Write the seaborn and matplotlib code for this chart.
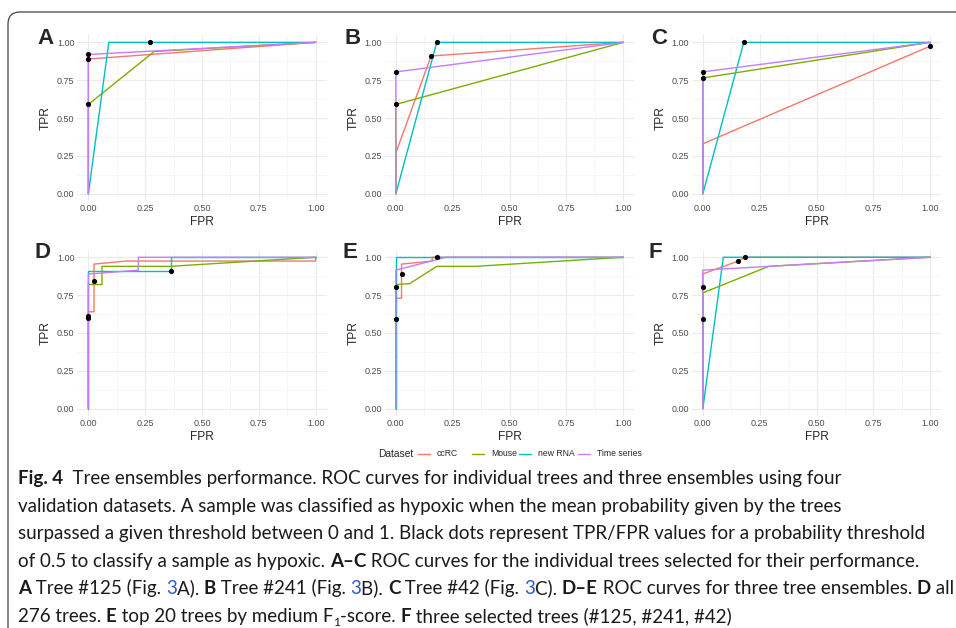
import matplotlib
matplotlib.use("Agg")
import matplotlib.pyplot as plt
from matplotlib.patches import FancyBboxPatch
from matplotlib.lines import Line2D
import pandas as pd
import seaborn as sns

# Data: ROC curves
datasets = ["ccRC", "Mouse", "new RNA", "Time series"]
colors = ["#F8766D", "#7CAE00", "#00BFC4", "#C77CFF"]
ticks = [0, 0.25, 0.5, 0.75, 1.0]
tick_labels = ["0.00", "0.25", "0.50", "0.75", "1.00"]
minor_ticks = [0.125, 0.375, 0.625, 0.875]
letters = ["A", "B", "C", "D", "E", "F"]

# A: tree #125
a_fpr = {"ccRC": [0, 0, 1], "Mouse": [0, 0, 0.29, 1], "new RNA": [0, 0.09, 1], "Time series": [0, 0, 1]}
a_tpr = {"ccRC": [0, 0.89, 1], "Mouse": [0, 0.59, 0.94, 1], "new RNA": [0, 1, 1], "Time series": [0, 0.92, 1]}
a_dot_fpr = [0, 0, 0, 0.27]
a_dot_tpr = [0.92, 0.89, 0.59, 1.0]

# B: tree #241
b_fpr = {"ccRC": [0, 0, 0.155, 1], "Mouse": [0, 0, 1], "new RNA": [0, 0.18, 1], "Time series": [0, 0, 1]}
b_tpr = {"ccRC": [0, 0.27, 0.91, 1], "Mouse": [0, 0.59, 1], "new RNA": [0, 1, 1], "Time series": [0, 0.805, 1]}
b_dot_fpr = [0.155, 0, 0.18, 0]
b_dot_tpr = [0.91, 0.59, 1.0, 0.805]

# C: tree #42
c_fpr = {"ccRC": [0, 0, 1, 1], "Mouse": [0, 0, 1], "new RNA": [0, 0.18, 1], "Time series": [0, 0, 1]}
c_tpr = {"ccRC": [0, 0.33, 0.975, 1], "Mouse": [0, 0.765, 1], "new RNA": [0, 1, 1], "Time series": [0, 0.805, 1]}
c_dot_fpr = [1, 0, 0.18, 0]
c_dot_tpr = [0.975, 0.765, 1.0, 0.805]

# D: all 276 trees
d_fpr = {"ccRC": [0, 0, 0.025, 0.025, 0.165, 1, 1], "Mouse": [0, 0, 0.06, 0.06, 0.36, 1],
         "new RNA": [0, 0, 0.365, 0.365, 1], "Time series": [0, 0, 0.01, 0.22, 0.22, 1]}
d_tpr = {"ccRC": [0, 0.64, 0.64, 0.955, 0.975, 0.975, 1], "Mouse": [0, 0.82, 0.82, 0.94, 0.94, 1],
         "new RNA": [0, 0.91, 0.91, 1, 1], "Time series": [0, 0.89, 0.89, 0.915, 1, 1]}
d_dot_fpr = [0.025, 0, 0, 0.365]
d_dot_tpr = [0.845, 0.60, 0.615, 0.91]

# E: top 20 trees
e_fpr = {"ccRC": [0, 0, 0.025, 0.025, 0.16, 0.16, 1], "Mouse": [0, 0, 0.06, 0.18, 0.35, 1],
         "new RNA": [0, 0, 1], "Time series": [0, 0, 0.22, 1]}
e_tpr = {"ccRC": [0, 0.73, 0.73, 0.955, 0.975, 1, 1], "Mouse": [0, 0.82, 0.825, 0.94, 0.94, 1],
         "new RNA": [0, 1, 1], "Time series": [0, 0.915, 1, 1]}
e_dot_fpr = [0, 0.025, 0, 0.18]
e_dot_tpr = [0.805, 0.89, 0.59, 1.0]

# F: three selected trees
f_fpr = {"ccRC": [0, 0, 0.155, 0.185, 1], "Mouse": [0, 0, 0.29, 1], "new RNA": [0, 0.09, 1], "Time series": [0, 0, 0.29, 1]}
f_tpr = {"ccRC": [0, 0.89, 0.975, 1, 1], "Mouse": [0, 0.765, 0.94, 1], "new RNA": [0, 1, 1], "Time series": [0, 0.915, 0.94, 1]}
f_dot_fpr = [0, 0, 0.155, 0.185]
f_dot_tpr = [0.805, 0.59, 0.975, 1.0]

panels = [(a_fpr, a_tpr, a_dot_fpr, a_dot_tpr), (b_fpr, b_tpr, b_dot_fpr, b_dot_tpr),
          (c_fpr, c_tpr, c_dot_fpr, c_dot_tpr), (d_fpr, d_tpr, d_dot_fpr, d_dot_tpr),
          (e_fpr, e_tpr, e_dot_fpr, e_dot_tpr), (f_fpr, f_tpr, f_dot_fpr, f_dot_tpr)]

sns.set_theme(style="white")
plt.rcParams["font.family"] = ["Liberation Sans", "DejaVu Sans"]

W, H = 956, 628
fig = plt.figure(figsize=(W / 100, H / 100), dpi=100)

# panel geometry in pixels
col_left = [77, 384.5, 691.5]
row_top = [34.8, 249.7]
ax_w, ax_h = 250, 166.5
letter_pos = [(37, 39), (344, 39), (651, 39), (35, 253), (342, 253), (649, 253)]

for i, (fpr, tpr, dfx, dfy) in enumerate(panels):
    r, c = divmod(i, 3)
    x0, y0 = col_left[c], row_top[r]
    ax = fig.add_axes([x0 / W, 1 - (y0 + ax_h) / H, ax_w / W, ax_h / H])
    rows = []
    for ds in datasets:
        for x, y in zip(fpr[ds], tpr[ds]):
            rows.append({"FPR": x, "TPR": y, "Dataset": ds})
    df = pd.DataFrame(rows)
    sns.lineplot(data=df, x="FPR", y="TPR", hue="Dataset", hue_order=datasets,
                 palette=colors, sort=False, estimator=None, legend=False,
                 linewidth=1.0, ax=ax)
    sns.scatterplot(x=dfx, y=dfy, color="black", s=14, linewidth=0, ax=ax, zorder=5)
    ax.set_xlim(-0.05, 1.05)
    ax.set_ylim(-0.05, 1.05)
    ax.set_xticks(ticks, labels=tick_labels)
    ax.set_yticks(ticks, labels=tick_labels)
    ax.set_xticks(minor_ticks, minor=True)
    ax.set_yticks(minor_ticks, minor=True)
    ax.grid(which="major", color="#EBEBEB", linewidth=0.8)
    ax.grid(which="minor", color="#F3F3F3", linewidth=0.5)
    ax.set_axisbelow(True)
    for s in ax.spines.values():
        s.set_visible(False)
    ax.tick_params(which="both", length=0, labelsize=6.5, labelcolor="#4D4D4D", pad=1.8)
    ax.set_xlabel("FPR", fontsize=8.6)
    ax.set_ylabel("TPR", fontsize=8.6)
    ax.xaxis.set_label_coords(0.5, -0.088)
    ax.yaxis.set_label_coords(-0.1, 0.5)
    lx, ly = letter_pos[i]
    fig.text(lx / W, 1 - ly / H, letters[i], fontsize=16, fontweight="bold",
             ha="left", va="center")

# legend
ly = 1 - 454 / H
fig.text(378 / W, ly, "Dataset", fontsize=7.4, ha="left", va="center")
key_x = [418, 472, 519, 578]
for ds, col, kx in zip(datasets, colors, key_x):
    fig.add_artist(Line2D([kx / W, (kx + 12) / W], [ly, ly], color=col, lw=1.0))
    fig.text((kx + 19) / W, ly, ds, fontsize=6.2, ha="left", va="center")

# border
fig.add_artist(FancyBboxPatch((0.08, -0.5), 10, 6.16 + 0.5, boxstyle="round,pad=0,rounding_size=0.12",
                              transform=fig.dpi_scale_trans, fill=False, edgecolor="#444444", lw=0.9))

# caption with mixed styling
renderer = fig.canvas.get_renderer()
cap_font = ["Lato", "DejaVu Sans"]
blue = "#2F55D4"
caption_lines = [
    [("Fig. 4", "b"), ("  Tree ensembles performance. ROC curves for individual trees and three ensembles using four", "n")],
    [("validation datasets. A sample was classified as hypoxic when the mean probability given by the trees", "n")],
    [("surpassed a given threshold between 0 and 1. Black dots represent TPR/FPR values for a probability threshold", "n")],
    [("of 0.5 to classify a sample as hypoxic. ", "n"), ("A–C", "b"),
     (" ROC curves for the individual trees selected for their performance.", "n")],
    [("A", "b"), (" Tree #125 (Fig. ", "n"), ("3", "l"), ("A). ", "n"), ("B", "b"), (" Tree #241 (Fig. ", "n"),
     ("3", "l"), ("B). ", "n"), ("C", "b"), (" Tree #42 (Fig. ", "n"), ("3", "l"), ("C). ", "n"),
     ("D–E", "b"), (" ROC curves for three tree ensembles. ", "n"), ("D", "b"), (" all", "n")],
    [("276 trees. ", "n"), ("E", "b"), (" top 20 trees by medium F", "n"), ("1", "s"), ("-score. ", "n"),
     ("F", "b"), (" three selected trees (#125, #241, #42)", "n")],
]
line_right = [700, 720, 948, 945, 952, 700]


def style(kind, size):
    kw = dict(family=cap_font, fontsize=size, color="#1A1A1A")
    if kind == "b":
        kw["fontweight"] = "bold"
    if kind == "l":
        kw["color"] = blue
    if kind == "s":
        kw["fontsize"] = size * 0.65
    return kw


def width(txt, kw):
    t1 = fig.text(0, 0, "|" + txt + "|", **kw)
    t2 = fig.text(0, 0, "||", **kw)
    w = t1.get_window_extent(renderer).width - t2.get_window_extent(renderer).width
    t1.remove()
    t2.remove()
    return w


def line_width(line, size):
    return sum(width(txt, style(kind, size)) for txt, kind in line)


base = 10
size = min(base * (line_right[k] - 18) / line_width(caption_lines[k], base) for k in (2, 3, 4))

for j, line in enumerate(caption_lines):
    x = 18.0
    base_y = 484 + 27.6 * j
    for txt, kind in line:
        kw = style(kind, size)
        yy = base_y + (4 if kind == "s" else 0)
        fig.text(x / 100, (H - yy) / 100, txt, transform=fig.dpi_scale_trans,
                 ha="left", va="baseline", **kw)
        x += width(txt, kw)

fig.savefig("out.png", dpi=100)
